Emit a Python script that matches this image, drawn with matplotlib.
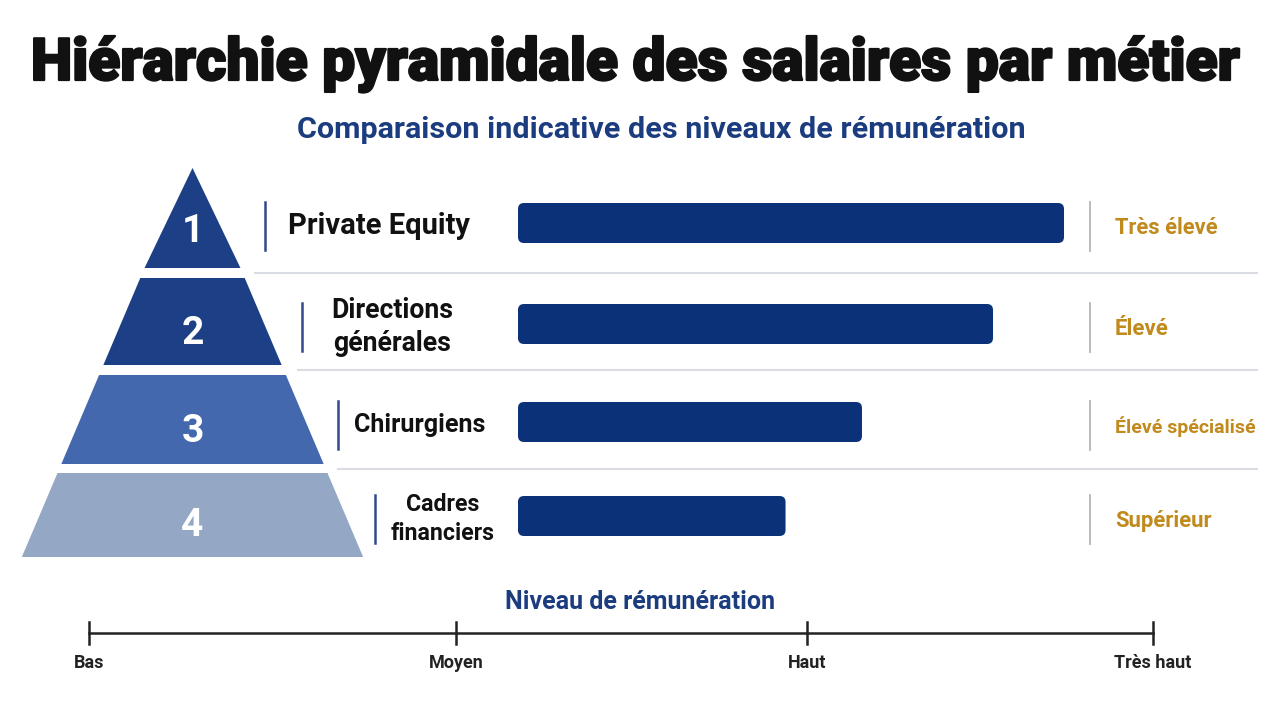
import matplotlib
matplotlib.use("Agg")
import matplotlib.pyplot as plt
import matplotlib.patheffects as pe
from matplotlib.patches import Polygon, FancyBboxPatch

# data
rangs = ["1", "2", "3", "4"]
metiers = ["Private Equity", "Directions\ngénérales", "Chirurgiens", "Cadres\nfinanciers"]
niveaux = ["Très élevé", "Élevé", "Élevé spécialisé", "Supérieur"]
scores = [100, 87, 63, 49]  # indicative bar length, % of top level
echelle = ["Bas", "Moyen", "Haut", "Très haut"]

NAVY = "#0b3179"
GOLD = "#c08a1c"
layer_colors = ["#1c3f86", "#1c3f86", "#4468ad", "#94a8c6"]

W, H = 1280, 702
fig = plt.figure(figsize=(W / 100, H / 100), dpi=100)
fig.patch.set_facecolor("white")

# background axes in pixel coordinates for layout items
ax = fig.add_axes([0, 0, 1, 1])
ax.set_xlim(0, W)
ax.set_ylim(H, 0)
ax.axis("off")

FONT = ["Roboto", "DejaVu Sans"]


def fit_text(x, y, s, width, size, **kw):
    t = ax.text(x, y, s, fontsize=size, family=FONT, **kw)
    r = fig.canvas.get_renderer()
    w = t.get_window_extent(renderer=r).width
    t.set_fontsize(min(size, size * width / w))
    return t


t = fit_text(635, 80, "Hiérarchie pyramidale des salaires par métier", 1210, 60,
             ha="center", va="baseline", weight=900, color="#111111")
t.set_path_effects([pe.withStroke(linewidth=1.6, foreground="#111111")])
fit_text(661, 138, "Comparaison indicative des niveaux de rémunération", 728, 26,
         ha="center", va="baseline", weight="bold", color="#1b3c7e")

# pyramid
row_y = [223, 324, 422, 516]
tops = [168, 278, 375, 473]
bots = [268, 365, 464, 557]
cx = 192.5


def half_w(y):
    return 0.4245 * (y - 155)


for i in range(len(rangs)):
    tp, b = tops[i], bots[i]
    ht = 0 if i == 0 else half_w(tp)
    hb = half_w(b)
    ax.add_patch(Polygon([(cx - ht, tp), (cx + ht, tp), (cx + hb, b), (cx - hb, b)],
                         closed=True, color=layer_colors[i], lw=0))
    ax.text(cx, row_y[i] + 9, rangs[i], ha="center", va="center", fontsize=28,
            weight="bold", color="white", family=FONT)

# labels, accent lines, separators
label_cx = [379, 392, 420, 443]
label_w = [184, 122, 131, 104]
accent_x = [265, 302, 338, 375]
sep_start = [255, 298, 338]
level_w = [103, 57, 141, 97]
for i in range(len(metiers)):
    y = row_y[i] + 3
    fit_text(label_cx[i], y, metiers[i], label_w[i], 21, ha="center", va="center",
             weight="bold", color="#111111", linespacing=1.3)
    ax.plot([accent_x[i], accent_x[i]], [y - 24, y + 24], color="#34498a", lw=1.8)
    ax.plot([1090, 1090], [y - 24, y + 25], color="#b5b5b5", lw=1.3)
    fit_text(1115, y + 2, niveaux[i], level_w[i], 16, ha="left", va="center",
             weight="bold", color=GOLD)
for i, s in enumerate(sep_start):
    sy = (bots[i] + tops[i + 1]) / 2
    ax.plot([s, 1257], [sy, sy], color="#d9dce2", lw=1.5)

# bars: value axes, 0 at x=518px, 100 at x=1064px
bx0, bx1 = 518, 1064
bax = fig.add_axes([bx0 / W, 0, (bx1 - bx0) / W, 1])
bax.set_xlim(0, 100)
bax.set_ylim(H, 0)
bax.axis("off")
bars = bax.barh(row_y, scores, height=40, color=NAVY)
for r in bars:
    x, y, w, h = r.get_x(), r.get_y(), r.get_width(), r.get_height()
    r.remove()
    bax.add_patch(FancyBboxPatch((x, y), w, h,
                                 boxstyle="round,pad=0,rounding_size=1.1",
                                 mutation_aspect=(bx1 - bx0) / 100,
                                 color=NAVY, lw=0))

# bottom scale
ax.text(640, 602, "Niveau de rémunération", ha="center", va="center", fontsize=18,
        weight="bold", color="#1b3c7e", family=FONT)
tick_px = [89, 456, 807, 1153]
ax.plot([tick_px[0], tick_px[-1]], [633, 633], color="#222222", lw=1.8)
for p, lab in zip(tick_px, echelle):
    ax.plot([p, p], [622, 644], color="#222222", lw=1.8)
    ax.text(p, 663, lab, ha="center", va="center", fontsize=13, weight="bold",
            color="#222222", family=FONT)

fig.savefig("out.png", dpi=100, facecolor="white")
